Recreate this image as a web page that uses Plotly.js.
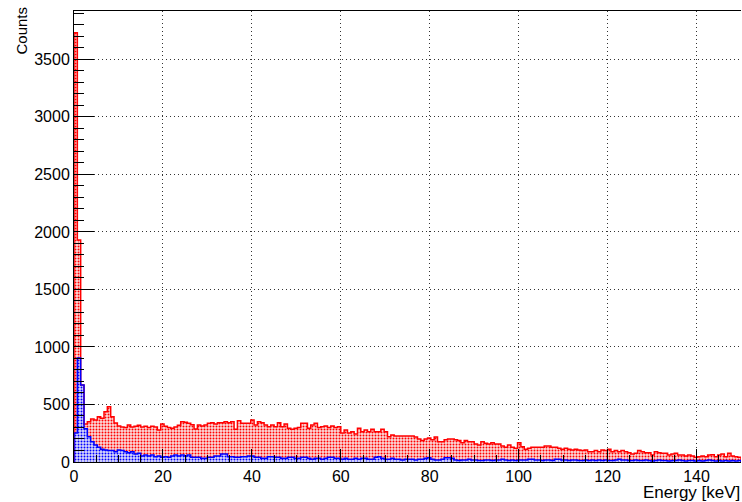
<!DOCTYPE html>
<html>
<head>
<meta charset="utf-8">
<script src="https://cdn.plot.ly/plotly-3.0.1.min.js"></script>
<style>html,body{margin:0;padding:0;background:#fff;}#chart{width:742px;height:502px;}</style>
</head>
<body>
<div id="chart"></div>
<script>
// Histogram binning: 200 bins over 0-150 keV
const binWidth = 0.75;
const xMin = 0;

// Red histogram (counts per bin)
const redCounts = [
  3730, 1930, 670, 330, 350, 374, 365, 394, 380, 437, 481, 394, 340, 313, 304, 300, 322, 304, 310, 320,
  304, 310, 300, 310, 305, 278, 330, 310, 300, 293, 304, 320, 350, 345,
  336, 324, 286, 322, 313, 322, 336, 341, 330, 341, 341, 350, 341, 350, 284, 359, 336, 336, 336, 365,
  322, 350, 341, 322, 307, 322, 307, 341, 307, 330, 293, 284, 293,
  300, 336, 336, 293, 322, 336, 300, 307, 313, 300, 313, 300, 307, 252, 278, 252, 264, 243, 293, 264,
  278, 264, 284, 264, 264, 284, 264, 220, 235, 226, 226, 226, 226,
  226, 226, 217, 200, 186, 200, 209, 194, 217, 177, 177, 194, 200, 200, 194, 186, 168, 186, 177, 177,
  157, 148, 177, 162, 157, 168, 157, 157, 139, 128, 148, 128, 119,
  168, 133, 110, 119, 128, 128, 128, 128, 139, 139, 128, 128, 119, 110, 119, 110, 104, 110, 104, 99,
  104, 90, 90, 99, 90, 104, 99, 110, 90, 99, 90, 99, 90,
  81, 70, 75, 99, 90, 81, 81, 61, 90, 81, 75, 75, 61, 70, 75, 61, 61, 52, 61, 52,
  41, 46, 52, 46, 61, 64, 46, 61, 70, 46, 75, 52, 46, 41
];

// Blue histogram (counts per bin)
const blueCounts = [
  252, 904, 670, 290, 220, 177, 148, 128, 110, 104, 99, 99, 90, 104, 99, 90, 81, 90, 70, 75,
  52, 61, 52, 61, 46, 52, 41, 46, 41, 52, 61, 52, 61, 52,
  61, 41, 41, 41, 32, 32, 41, 41, 52, 52, 70, 70, 46, 46, 41, 41, 46, 46, 52, 52,
  41, 41, 32, 32, 46, 46, 41, 41, 32, 32, 41, 41, 32,
  32, 41, 41, 32, 23, 32, 32, 23, 32, 41, 41, 32, 32, 23, 32, 23, 23, 32, 23, 32,
  32, 23, 23, 41, 46, 32, 23, 23, 32, 23, 23, 17, 23,
  23, 23, 17, 23, 23, 32, 38, 23, 17, 17, 23, 38, 38, 32, 17, 12, 17, 17, 23, 17,
  17, 12, 12, 17, 17, 12, 17, 17, 23, 17, 12, 17, 12,
  17, 17, 17, 23, 23, 17, 17, 12, 17, 17, 12, 23, 23, 17, 17, 12, 17, 17, 12, 12,
  17, 12, 17, 12, 17, 12, 17, 12, 12, 17, 23, 17, 17,
  12, 12, 17, 12, 12, 17, 12, 8, 12, 17, 12, 12, 8, 12, 12, 17, 12, 8, 12, 12,
  8, 12, 8, 12, 17, 12, 8, 12, 8, 12, 8, 12, 8, 12
];

const xTickVals = [0, 20, 40, 60, 80, 100, 120, 140];
const yTickVals = [0, 500, 1000, 1500, 2000, 2500, 3000, 3500];
const xTitle = 'Energy [keV]';
const yTitle = 'Counts';

function centers(n) { const c = []; for (let i = 0; i < n; i++) c.push(xMin + (i + 0.5) * binWidth); return c; }
function stepX(n) { const e = [xMin]; for (let i = 0; i <= n; i++) e.push(xMin + i * binWidth); return e; }
function stepY(v) { return [0].concat(v, [0]); }

function barTrace(vals, color, bg) {
  return {
    type: 'bar', x: centers(vals.length), y: vals, width: binWidth,
    marker: { color: bg, line: { width: 0 },
      pattern: { shape: '.', fgcolor: color, bgcolor: bg, size: 3, solidity: 0.33 } },
    hoverinfo: 'skip', showlegend: false
  };
}
function lineTrace(vals, color) {
  return {
    type: 'scatter', mode: 'lines', x: stepX(vals.length), y: stepY(vals),
    line: { color: color, width: 1.5, shape: 'hv' }, hoverinfo: 'skip', showlegend: false
  };
}

const font = { family: 'Liberation Sans, Arial, sans-serif', size: 16, color: '#000' };

const data = [
  barTrace(redCounts, '#ff0000', '#fbdcdc'),
  lineTrace(redCounts, '#ff0000'),
  barTrace(blueCounts, '#0000ff', '#dcdcfb'),
  lineTrace(blueCounts, '#0000ff')
];

const layout = {
  width: 742, height: 502,
  margin: { l: 74, r: 1, t: 11, b: 40 },
  paper_bgcolor: 'white', plot_bgcolor: 'white',
  barmode: 'overlay', bargap: 0,
  font: font,
  xaxis: {
    range: [0, 150], tickvals: xTickVals, ticks: 'inside', ticklen: 13, tickwidth: 1, tickcolor: '#000',
    showline: true, linecolor: '#000', linewidth: 1, mirror: true,
    showgrid: true, gridcolor: '#333', griddash: '1px,3px', gridwidth: 1, zeroline: false,
    minor: { dtick: 5, ticks: 'inside', ticklen: 7, tickcolor: '#000', showgrid: false },
    tickfont: font, automargin: false
  },
  yaxis: {
    range: [0, 3920], tickvals: yTickVals, ticks: 'inside', ticklen: 20, tickwidth: 1, tickcolor: '#000',
    showline: true, linecolor: '#000', linewidth: 1,
    showgrid: true, gridcolor: '#333', griddash: '1px,3px', gridwidth: 1, zeroline: false,
    minor: { dtick: 100, ticks: 'inside', ticklen: 10, tickcolor: '#000', showgrid: false },
    tickfont: font, automargin: false
  },
  annotations: [
    { text: xTitle, xref: 'paper', yref: 'paper', x: 1, y: 0, xanchor: 'right', yanchor: 'top', yshift: -20,
      borderpad: 0, showarrow: false, font: { family: font.family, size: 17, color: '#000' } },
    { text: yTitle, xref: 'paper', yref: 'paper', x: 0, y: 1, xanchor: 'right', yanchor: 'top', xshift: -43, yshift: 6,
      textangle: -90, showarrow: false, font: { family: font.family, size: 15, color: '#000' } }
  ]
};

Plotly.newPlot('chart', data, layout, { displayModeBar: false, staticPlot: true });
</script>
</body>
</html>
